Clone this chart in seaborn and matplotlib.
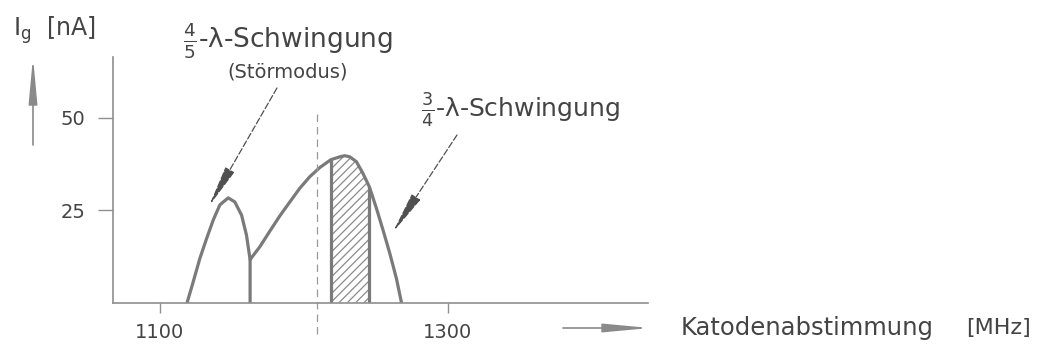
import matplotlib
matplotlib.use("Agg")
import matplotlib.pyplot as plt
import pandas as pd
import seaborn as sns

# Gitterstrom I_g über der Katodenabstimmung (MHz)
stoer_mhz = [1118.9, 1123.1, 1127.7, 1132.4, 1137.0, 1141.6, 1147.4, 1152.0,
             1156.7, 1160.1, 1162.6, 1162.6]
stoer_ig = [0.0, 5.6, 11.9, 17.3, 22.3, 26.4, 28.3, 27.2,
            23.6, 18.2, 11.6, 0.0]

haupt_mhz = [1162.6, 1169.4, 1176.3, 1183.2, 1190.2, 1197.1, 1204.0, 1211.0,
             1218.6, 1224.9, 1228.3, 1231.8, 1236.4, 1241.0, 1245.5, 1250.3,
             1254.9, 1259.6, 1264.2, 1267.7]
haupt_ig = [11.6, 15.1, 19.3, 23.4, 27.2, 30.9, 34.0, 36.5,
            38.6, 39.4, 39.7, 39.4, 38.1, 34.9, 31.2, 25.5,
            19.6, 13.3, 6.5, 0.0]

# schraffierter Arbeitsbereich und Modengrenze
band_start, band_end = 1218.6, 1245.5
mode_edge = 1208.8
mode_edge_span = [-8.5, 51.5]

x_ticks = [1100, 1300]
y_ticks = [25, 50]
x_limits = [1067.4, 1438.9]
y_limits = [0.0, 66.4]

W, H = 1041, 352
LINE = "#7a7a7a"
AXIS = "#8f8f8f"
TEXT = "#444444"

sns.set_theme(style="white")
plt.rcParams["font.family"] = ["DejaVu Sans"]
plt.rcParams["hatch.linewidth"] = 0.9
plt.rcParams["mathtext.fontset"] = "dejavusans"


def fx(x):
    return x / W


def fy(y):
    return 1 - y / H


fig = plt.figure(figsize=(W / 100, H / 100), dpi=100)
fig.patch.set_facecolor("white")
ax = fig.add_axes([113 / W, 49.5 / H, 535 / W, 245.5 / H])
ax.set_facecolor("white")

stoer = pd.DataFrame({"f": stoer_mhz, "ig": stoer_ig})
haupt = pd.DataFrame({"f": haupt_mhz, "ig": haupt_ig})

line_kw = dict(color=LINE, linewidth=2.3, sort=False, estimator=None,
               solid_joinstyle="round", solid_capstyle="round")
sns.lineplot(data=stoer, x="f", y="ig", ax=ax, **line_kw)
sns.lineplot(data=haupt, x="f", y="ig", ax=ax, **line_kw)

# schraffierter Bereich unter der Hauptkurve
band = haupt[(haupt["f"] >= band_start) & (haupt["f"] <= band_end)]
ax.fill_between(band["f"], band["ig"], 0, facecolor="none", edgecolor="#8a8a8a",
                hatch="////", linewidth=0)
ax.vlines([band_start, band_end],
          0, [band["ig"].iloc[0], band["ig"].iloc[-1]],
          color=LINE, linewidth=2.3)

# gestrichelte Modengrenze
ax.plot([mode_edge, mode_edge], mode_edge_span, color="#9a9a9a", linewidth=0.9,
        linestyle=(0, (6, 4)), clip_on=False)

ax.set_xlim(x_limits)
ax.set_ylim(y_limits)
ax.set_xticks(x_ticks)
ax.set_yticks(y_ticks)
ax.set_xlabel("")
ax.set_ylabel("")
for side in ("top", "right"):
    ax.spines[side].set_visible(False)
for side in ("left", "bottom"):
    ax.spines[side].set_color(AXIS)
    ax.spines[side].set_linewidth(1.2)
ax.tick_params(axis="x", direction="out", length=7, width=1.0, pad=8,
               color=AXIS, labelcolor=TEXT, labelsize=14, bottom=True)
ax.tick_params(axis="y", direction="out", length=11, width=1.0, pad=9,
               color=AXIS, labelcolor=TEXT, labelsize=14, left=True)

# Beschriftungen
fig.text(fx(288), fy(41), r"$\frac{4}{5}$-λ-Schwingung", ha="center", va="center",
         fontsize=19, color=TEXT)
fig.text(fx(288), fy(72), "(Störmodus)", ha="center", va="center",
         fontsize=14, color=TEXT)
fig.text(fx(520), fy(110), r"$\frac{3}{4}$-λ-Schwingung", ha="center", va="center",
         fontsize=18, color=TEXT)
fig.text(fx(54), fy(30), r"I$_\mathregular{g}$  [nA]", ha="center", va="center",
         fontsize=17, color=TEXT)
fig.text(fx(807), fy(328), "Katodenabstimmung", ha="center", va="center",
         fontsize=17.5, color=TEXT)
fig.text(fx(998), fy(328), "[MHz]", ha="center", va="center",
         fontsize=16, color=TEXT)

arrow_kw = dict(xycoords="figure fraction", textcoords="figure fraction")
pointer = dict(arrowstyle="-|>,head_length=1.3,head_width=0.16", color="#505050",
               linewidth=0.9, linestyle=(0, (5, 2)), shrinkA=0, shrinkB=0,
               mutation_scale=20)
ax.annotate("", xy=(fx(209), fy(206)), xytext=(fx(277), fy(88)),
            arrowprops=pointer, **arrow_kw)
ax.annotate("", xy=(fx(393), fy(232)), xytext=(fx(457), fy(135)),
            arrowprops=pointer, **arrow_kw)

axis_arrow = dict(arrowstyle="-|>,head_length=1.4,head_width=0.13", color="#8a8a8a",
                  linewidth=1.2, shrinkA=0, shrinkB=0, mutation_scale=20)
ax.annotate("", xy=(fx(33), fy(57)), xytext=(fx(33), fy(145)),
            arrowprops=axis_arrow, **arrow_kw)
ax.annotate("", xy=(fx(650), fy(328)), xytext=(fx(563), fy(328)),
            arrowprops=axis_arrow, **arrow_kw)

fig.savefig("out.png", dpi=100, facecolor="white")
